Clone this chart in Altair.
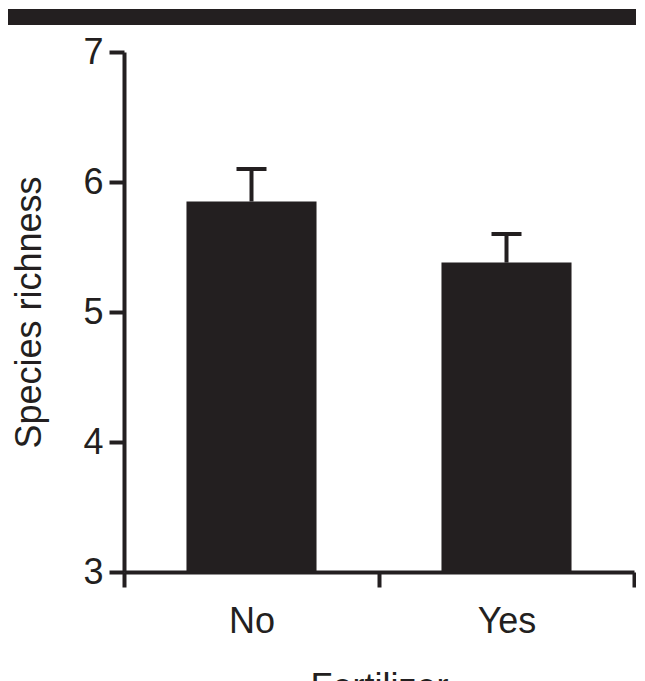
import altair as alt
import pandas as pd

categories = ["No", "Yes"]
means = [5.85, 5.38]
upper = [6.10, 5.60]
y_ticks = [3, 4, 5, 6, 7]

INK = "#231f20"
FONT = "Liberation Sans"

df = pd.DataFrame({"Fertilizer": categories, "mean": means, "upper": upper})

x_enc = alt.X(
    "Fertilizer:N",
    sort=categories,
    scale=alt.Scale(paddingInner=0, paddingOuter=0),
    axis=alt.Axis(
        tickBand="extent",
        labelAngle=0,
        labelPadding=17,
        titlePadding=31,
        tickSize=15,
    ),
    title="Fertilizer",
)

y_scale = alt.Scale(domain=[3, 7], zero=False, nice=False)

base = alt.Chart(df)

bars = base.mark_bar(color=INK, width=alt.RelativeBandSize(0.51)).encode(
    x=x_enc,
    y=alt.Y(
        "mean:Q",
        scale=y_scale,
        axis=alt.Axis(values=y_ticks, format="d", tickSize=15, labelPadding=6, titlePadding=34),
        title="Species richness",
    ),
    y2=alt.datum(3),
)

stem = base.mark_rule(color=INK, strokeWidth=4).encode(
    x=x_enc, y=alt.Y("mean:Q", scale=y_scale), y2="upper:Q"
)

cap = base.mark_tick(color=INK, opacity=1, size=30, thickness=4).encode(
    x=x_enc, y=alt.Y("upper:Q", scale=y_scale)
)

topbar = (
    alt.Chart(pd.DataFrame({"k": [0]}))
    .mark_rect(color=INK)
    .encode(
        x=alt.value(-116), x2=alt.value(512), y=alt.value(-43), y2=alt.value(-27)
    )
)

chart = (
    alt.layer(bars, stem, cap, topbar)
    .properties(
        width=510,
        height=520,
        padding={"left": 0, "top": 1, "right": 0, "bottom": 0},
        background="white",
    )
    .configure_view(stroke=None)
    .configure_axis(
        grid=False,
        domainColor=INK,
        domainWidth=4,
        tickColor=INK,
        tickWidth=4,
        labelColor=INK,
        titleColor=INK,
        labelFont=FONT,
        titleFont=FONT,
        labelFontSize=36,
        titleFontSize=36,
        titleFontWeight="normal",
    )
)

chart.save("out.html", embed_options={"renderer": "svg", "actions": False})
